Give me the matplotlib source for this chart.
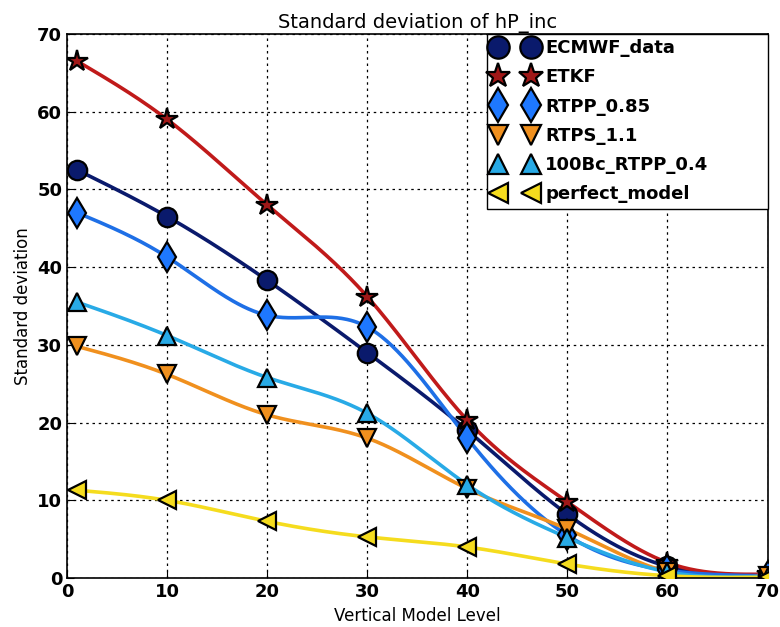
import numpy as np
import matplotlib
matplotlib.use("Agg")
import matplotlib.pyplot as plt

levels = [1, 10, 20, 30, 40, 50, 60, 70]
ecmwf_data = [52.5, 46.5, 38.3, 29.0, 19.0, 8.2, 1.5, 0.3]
etkf = [66.5, 59.0, 48.0, 36.2, 20.3, 9.8, 2.0, 0.5]
rtpp_085 = [47.0, 41.3, 33.8, 32.3, 18.0, 5.5, 1.0, 0.3]
rtps_11 = [29.8, 26.2, 21.0, 18.0, 11.5, 6.3, 0.8, 0.3]
bc100_rtpp_04 = [35.5, 31.2, 25.8, 21.2, 12.0, 5.2, 0.8, 0.2]
perfect_model = [11.3, 10.0, 7.3, 5.3, 4.0, 1.8, 0.3, 0.1]

series = [
    ("ECMWF_data", ecmwf_data, "#0a1a6c", "#0a1a6c", "o", 14),
    ("ETKF", etkf, "#c01a1a", "#a01818", "*", 16),
    ("RTPP_0.85", rtpp_085, "#1e6fe6", "#1e78ff", "d", 15),
    ("RTPS_1.1", rtps_11, "#f0901e", "#f0901e", "v", 13),
    ("100Bc_RTPP_0.4", bc100_rtpp_04, "#28aae6", "#28aae6", "^", 13),
    ("perfect_model", perfect_model, "#f5dc1e", "#f5dc1e", "<", 13),
]


def natural_spline(x, y, xs):
    x = np.asarray(x, float)
    y = np.asarray(y, float)
    n = len(x)
    h = np.diff(x)
    A = np.zeros((n, n))
    b = np.zeros(n)
    A[0, 0] = 1
    A[-1, -1] = 1
    for i in range(1, n - 1):
        A[i, i - 1] = h[i - 1]
        A[i, i] = 2 * (h[i - 1] + h[i])
        A[i, i + 1] = h[i]
        b[i] = 6 * ((y[i + 1] - y[i]) / h[i] - (y[i] - y[i - 1]) / h[i - 1])
    M = np.linalg.solve(A, b)
    idx = np.clip(np.searchsorted(x, xs) - 1, 0, n - 2)
    x0, x1 = x[idx], x[idx + 1]
    hh = x1 - x0
    t0 = x1 - xs
    t1 = xs - x0
    return (M[idx] * t0 ** 3 / (6 * hh) + M[idx + 1] * t1 ** 3 / (6 * hh)
            + (y[idx] / hh - M[idx] * hh / 6) * t0
            + (y[idx + 1] / hh - M[idx + 1] * hh / 6) * t1)


fig = plt.figure(figsize=(7.8, 6.27), dpi=100)
ax = fig.add_axes([0.086, 0.078, 0.898, 0.868])

xs = np.linspace(levels[0], levels[-1], 400)
for name, vals, lc, mc, mk, ms in series:
    ax.plot(xs, natural_spline(levels, vals, xs), color=lc, lw=2.6, zorder=2)
for name, vals, lc, mc, mk, ms in series:
    ax.plot(levels, vals, linestyle="none", marker=mk, markersize=ms,
            markerfacecolor=mc, markeredgecolor="black", markeredgewidth=1.6,
            label=name, zorder=3)

ax.set_xlim(0, 70)
ax.set_ylim(0, 70)
ax.set_xticks(range(0, 71, 10))
ax.set_yticks(range(0, 71, 10))
ax.grid(True, color="black", linestyle=(0, (2, 3)), linewidth=0.9)
ax.tick_params(labelsize=13, direction="in", length=5)
for lab in ax.get_xticklabels() + ax.get_yticklabels():
    lab.set_fontweight("bold")
ax.set_xlabel("Vertical Model Level", fontsize=12)
ax.set_ylabel("Standard deviation", fontsize=12)
ax.set_title("Standard deviation of hP_inc", fontsize=14, pad=4)
for s in ax.spines.values():
    s.set_color("black")
    s.set_linewidth(1.2)

leg = ax.legend(loc="upper left", bbox_to_anchor=(0.6, 0.0, 0.4, 1.0),
                mode="expand", numpoints=2, fontsize=13, fancybox=False,
                framealpha=1, edgecolor="black", borderaxespad=0.0,
                handletextpad=0.5, labelspacing=0.62, borderpad=0.3,
                handlelength=2.4, markerscale=1.15)
leg.get_frame().set_linewidth(1.0)
for t in leg.get_texts():
    t.set_fontweight("bold")

fig.savefig("out.png", dpi=100)
